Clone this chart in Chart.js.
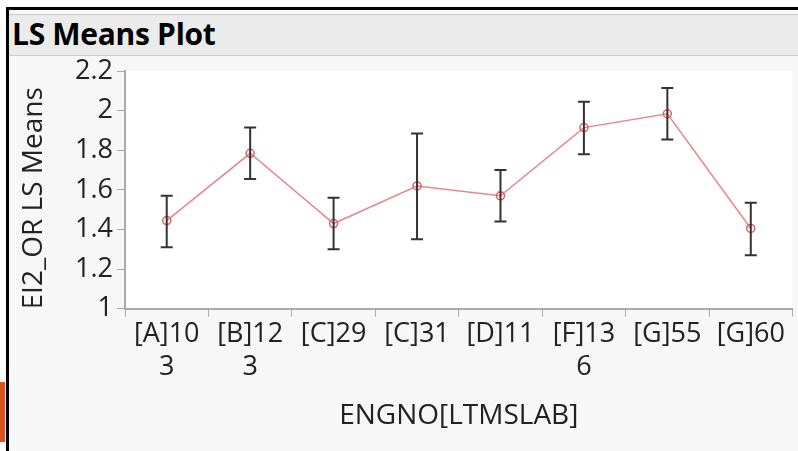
<!DOCTYPE html>
<html><head><meta charset="utf-8">
<script src="https://cdn.jsdelivr.net/npm/chart.js@4"></script>
<style>
html,body{margin:0;padding:0;background:#fff;}
#frame{position:absolute;left:6px;top:7px;width:792px;height:444px;border-left:3px solid #000;border-top:3px solid #000;background:#f7f7f7;}
#bar{position:absolute;left:9px;top:14px;width:789px;height:42px;background:#ebebeb;border-top:1px solid #ccc;border-bottom:1px solid #ccc;font:bold 30px "Open Sans",sans-serif;line-height:38px;padding-left:3px;box-sizing:border-box;color:#000;letter-spacing:-0.3px;}
#orange{position:absolute;left:0;top:382px;width:5px;height:60px;background:#d9541e;}
#wrap{position:absolute;left:9px;top:51px;width:789px;height:400px;}
</style></head><body>
<div id="frame"></div><div id="orange"></div>
<div id="bar">LS Means Plot</div>
<div id="wrap"><canvas id="c"></canvas></div>
<script>
// === LS means with error bars ===
var categories = [['[A]10','3'],['[B]12','3'],'[C]29','[C]31','[D]11',['[F]13','6'],'[G]55','[G]60'];
var means = [1.445, 1.785, 1.43, 1.62, 1.57, 1.915, 1.985, 1.405];
var lower = [1.31, 1.655, 1.30, 1.35, 1.44, 1.78, 1.855, 1.27];
var upper = [1.57, 1.915, 1.56, 1.885, 1.70, 2.045, 2.115, 1.535];

var FONT = '"Open Sans", sans-serif';

var plotBg = {
  id: 'plotBg',
  beforeDraw: function(chart) {
    var a = chart.chartArea, ctx = chart.ctx;
    ctx.save(); ctx.fillStyle = '#fff';
    ctx.fillRect(a.left, a.top, a.right - a.left, a.bottom - a.top);
    ctx.restore();
  }
};

var errorBars = {
  id: 'errorBars',
  afterDatasetsDraw: function(chart) {
    var ctx = chart.ctx, x = chart.scales.x, y = chart.scales.y;
    ctx.save();
    ctx.strokeStyle = '#333'; ctx.lineWidth = 2;
    means.forEach(function(m, i) {
      var px = x.getPixelForValue(i), a = y.getPixelForValue(lower[i]), b = y.getPixelForValue(upper[i]);
      ctx.beginPath();
      ctx.moveTo(px, a); ctx.lineTo(px, b);
      ctx.moveTo(px - 6, a); ctx.lineTo(px + 6, a);
      ctx.moveTo(px - 6, b); ctx.lineTo(px + 6, b);
      ctx.stroke();
    });
    ctx.restore();
  }
};

// y title is clipped in the original, like a too-narrow panel
var yTitle = {
  id: 'yTitle',
  afterDraw: function(chart) {
    var ctx = chart.ctx, a = chart.chartArea;
    ctx.save();
    ctx.beginPath(); ctx.rect(0, a.top - 4, 60, a.bottom - a.top + 2); ctx.clip();
    ctx.translate(25, (a.top + a.bottom) / 2 + 38);
    ctx.rotate(-Math.PI / 2);
    ctx.font = '28px ' + FONT;
    ctx.fillStyle = '#222'; ctx.textAlign = 'center'; ctx.textBaseline = 'middle';
    ctx.fillText('MAXEI2_OR LS Means', 0, 0);
    ctx.restore();
  }
};

new Chart(document.getElementById('c'), {
  type: 'line',
  data: {
    labels: categories,
    datasets: [{
      data: means,
      borderColor: '#e8868c', borderWidth: 1.5,
      pointRadius: 4, pointBorderColor: '#d9606a', pointBackgroundColor: 'rgba(0,0,0,0)', pointBorderWidth: 1.5,
      tension: 0
    }]
  },
  options: {
    responsive: true, maintainAspectRatio: false, animation: false,
    layout: { padding: { top: 4, right: 3, bottom: 14, left: 0 } },
    plugins: { legend: { display: false }, tooltip: { enabled: false } },
    scales: {
      x: {
        offset: true,
        grid: { display: true, drawOnChartArea: false, offset: true, color: '#aaa', tickLength: 8 },
        border: { color: '#aaa', width: 2 },
        ticks: { font: { size: 27, family: FONT }, color: '#222', maxRotation: 0, autoSkip: false, padding: 2 },
        title: { display: true, text: 'ENGNO[LTMSLAB]', font: { size: 28, family: FONT }, color: '#222', padding: { top: 14 } }
      },
      y: {
        min: 1, max: 2.2,
        afterFit: function(s) { s.width = 116; },
        grid: { display: true, drawOnChartArea: false, color: '#aaa', tickLength: 8 },
        border: { color: '#aaa', width: 2 },
        ticks: { stepSize: 0.2, font: { size: 27, family: FONT }, color: '#222', padding: 4,
          callback: function(v) { return Math.round(v * 10) / 10; } }
      }
    }
  },
  plugins: [plotBg, errorBars, yTitle]
});
</script>
</body></html>
